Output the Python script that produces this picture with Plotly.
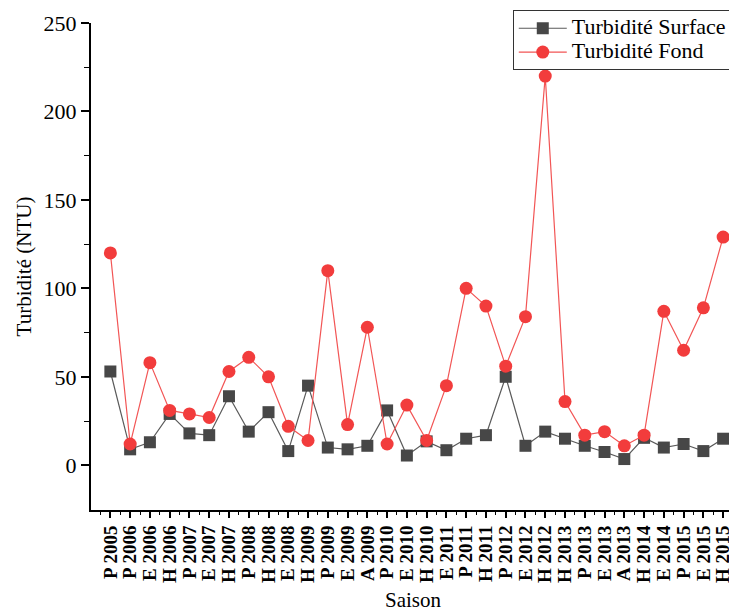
import plotly.graph_objects as go

categories = ["P 2005", "P 2006", "E 2006", "H 2006", "P 2007", "E 2007", "H 2007", "P 2008",
              "H 2008", "E 2008", "H 2009", "P 2009", "E 2009", "A 2009", "P 2010", "E 2010",
              "H 2010", "E 2011", "P 2011", "H 2011", "P 2012", "E 2012", "H 2012", "H 2013",
              "P 2013", "E 2013", "A 2013", "H 2014", "E 2014", "P 2015", "E 2015", "H 2015"]

surface = [53, 9, 13, 29, 18, 17, 39, 19, 30, 8, 45, 10, 9, 11, 31, 5.5,
           13.5, 8.5, 15, 17, 50, 11, 19, 15, 11, 7.5, 3.5, 15.5, 10, 12, 8, 15]

fond = [120, 12, 58, 31, 29, 27, 53, 61, 50, 22, 14, 110, 23, 78, 12, 34,
        14, 45, 100, 90, 56, 84, 220, 36, 17, 19, 11, 17, 87, 65, 89, 129]

series_names = ["Turbidité Surface", "Turbidité Fond"]

x = list(range(len(categories)))
FONT = "Liberation Serif, Times New Roman, serif"


def big(name):
    return '<span style="font-size:22px">' + name + '</span>'


fig = go.Figure()
fig.add_trace(go.Scatter(
    x=x, y=surface, mode="lines+markers", name=big(series_names[0]),
    line=dict(color="#5a5a5a", width=1.2),
    marker=dict(symbol="square", size=12, color="#474747"),
))
fig.add_trace(go.Scatter(
    x=x, y=fond, mode="lines+markers", name=big(series_names[1]),
    line=dict(color="#f25555", width=1.2),
    marker=dict(symbol="circle", size=13, color="#f23c3c"),
))

fig.update_layout(
    width=729, height=608,
    paper_bgcolor="white", plot_bgcolor="white",
    margin=dict(l=83, r=2, t=13, b=106),
    font=dict(family=FONT, color="black"),
    showlegend=True,
    legend=dict(
        x=0.995, y=1.026, xanchor="right", yanchor="top",
        bordercolor="#333", borderwidth=1, bgcolor="rgba(255,255,255,0)",
        font=dict(family=FONT, size=16, color="black"),
        itemwidth=48, tracegroupgap=0,
    ),
    xaxis=dict(
        range=[-0.98, 31.6],
        tickmode="array", tickvals=x, ticktext=categories,
        tickangle=-90,
        tickfont=dict(family=FONT, size=19, color="black", weight="bold"),
        showgrid=False, zeroline=False,
        showline=True, linecolor="black", linewidth=2,
        ticks="outside", ticklen=6, tickwidth=1.5, tickcolor="black",
        minor=dict(tick0=0.5, dtick=1, ticks="outside", ticklen=3, tickwidth=1.2, tickcolor="black", showgrid=False),
        title=dict(text="Saison", font=dict(family=FONT, size=21, color="black"), standoff=10),
    ),
    yaxis=dict(
        range=[-25.3, 250],
        tickmode="array", tickvals=[0, 50, 100, 150, 200, 250],
        tickfont=dict(family=FONT, size=22, color="black"),
        showgrid=False, zeroline=False,
        showline=True, linecolor="black", linewidth=2,
        ticks="outside", ticklen=8, tickwidth=1.5, tickcolor="black",
        minor=dict(tickvals=[25, 75, 125, 175, 225], ticks="outside", ticklen=5, tickwidth=1.2, tickcolor="black", showgrid=False),
        title=dict(text="Turbidité (NTU)", font=dict(family=FONT, size=21, color="black"), standoff=6),
    ),
)

fig.write_html("out.html")
